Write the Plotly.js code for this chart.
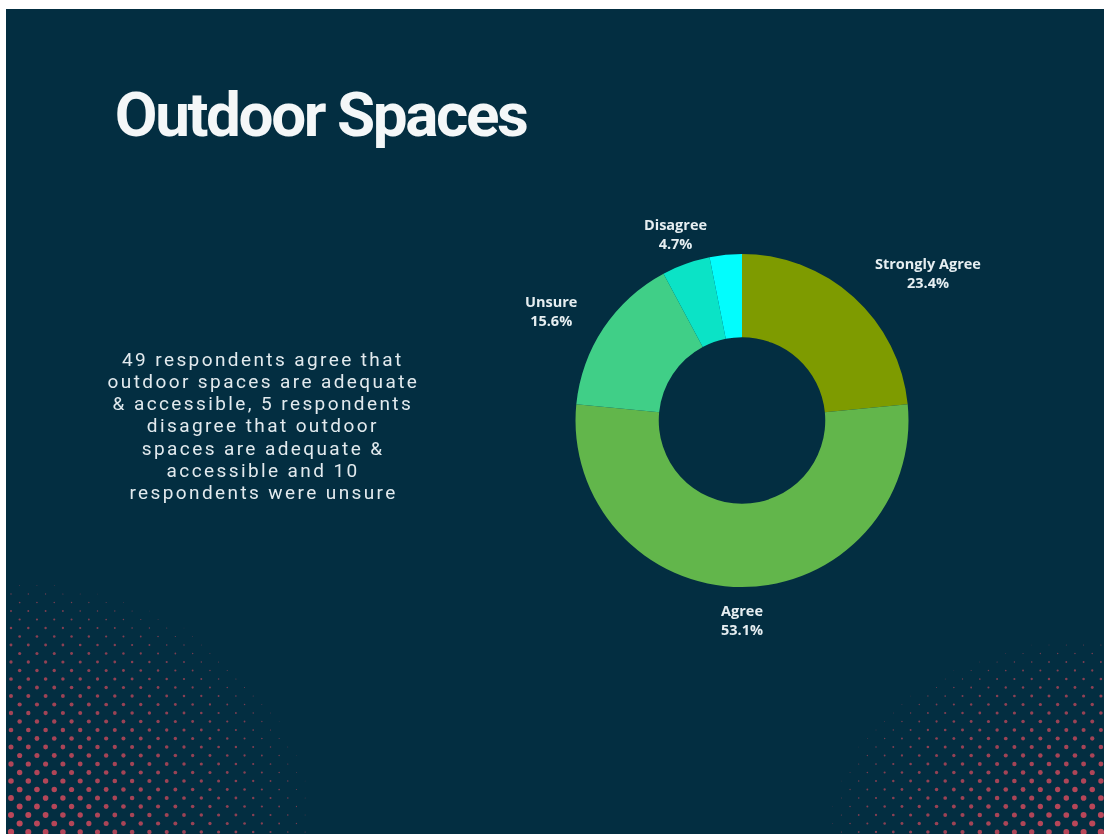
<!DOCTYPE html>
<html>
<head>
<meta charset="utf-8">
<script src="https://cdn.plot.ly/plotly-3.0.1.min.js"></script>
<style>
html,body{margin:0;padding:0;background:#ffffff;width:1104px;height:834px;overflow:hidden;}
#wrap{position:absolute;left:6px;top:9px;width:1098px;height:825px;background:#032e41;overflow:hidden;}
#bg{position:absolute;left:0;top:0;}
#chart{position:absolute;left:0;top:0;width:1098px;height:825px;}
.annotation[data-index="0"] text{letter-spacing:-2.4px;}
.annotation[data-index="1"] text,
.annotation[data-index="2"] text,
.annotation[data-index="3"] text,
.annotation[data-index="4"] text,
.annotation[data-index="5"] text,
.annotation[data-index="6"] text,
.annotation[data-index="7"] text{letter-spacing:2.4px;}
</style>
</head>
<body>
<div id="wrap">
<canvas id="bg" width="1098" height="825"></canvas>
<div id="chart"></div>
</div>
<script>
// ---- data ----
const categories = ['Strongly Agree', 'Agree', 'Unsure', 'Disagree', 'Strongly Disagree'];
const respondents = [15, 34, 10, 3, 2];
const labelled = [true, true, true, true, false];
const titleText = 'Outdoor Spaces';
const summaryLines = [
  '49 respondents agree that',
  'outdoor spaces are adequate',
  '& accessible, 5 respondents',
  'disagree that outdoor',
  'spaces are adequate &',
  'accessible and 10',
  'respondents were unsure'
];

// ---- styles ----
const sliceColors = ['#7e9b00', '#62b64b', '#40cf87', '#0be3c6', '#02fdfd'];
const W = 1098, H = 825;
// label centres in plot pixels (x, y from top)
const labelPos = [[922, 264.5], [736, 610.5], [545, 301.5], [669, 225]];

// ---- decorative halftone background ----
(function () {
  const cv = document.getElementById('bg');
  const ctx = cv.getContext('2d');
  const dx = 17.3, dy = 8.5;
  const ox = -6, oy = -9; // canvas offset relative to page
  for (let row = 0; row * dy < 834 + dy; row++) {
    const py = 832 - row * dy;
    const shift = (row % 2) ? dx / 2 : 0;
    for (let col = -1; col * dx < 1104 + dx; col++) {
      const px = col * dx + shift + 11;
      const dl = Math.sqrt(Math.pow(px / 320, 2) + Math.pow((834 - py) / 260, 2));
      const dr = Math.sqrt(Math.pow((1104 - px) / 280, 2) + Math.pow((834 - py) / 200, 2));
      const t = Math.max(0, 1 - dl, 1 - dr);
      if (t <= 0.02) continue;
      const r = 3.2 * Math.pow(t, 0.6);
      ctx.beginPath();
      ctx.fillStyle = 'rgba(192,72,90,' + (0.45 + 0.55 * Math.pow(t, 0.5)).toFixed(3) + ')';
      ctx.arc(px + ox, py + oy, r, 0, Math.PI * 2);
      ctx.fill();
    }
  }
})();

// ---- chart ----
const total = respondents.reduce((a, b) => a + b, 0);
const pctText = respondents.map(v => (v / total * 100).toFixed(1) + '%');

const cx = 736, cy = 411.5, R = 166.5;
const trace = {
  type: 'pie',
  labels: categories,
  values: respondents,
  sort: false,
  direction: 'clockwise',
  rotation: 0,
  hole: 0.5,
  textinfo: 'none',
  hoverinfo: 'label+percent',
  marker: { colors: sliceColors, line: { width: 0 } },
  showlegend: false,
  domain: { x: [(cx - R) / W, (cx + R) / W], y: [1 - (cy + R) / H, 1 - (cy - R) / H] }
};

const annotations = [];
annotations.push({
  text: titleText, xref: 'paper', yref: 'paper',
  x: 90 / W, y: 1 - 106 / H, xanchor: 'left', yanchor: 'middle', showarrow: false,
  font: { family: 'Roboto', size: 62, weight: 700, color: '#f4f7f8' }
});
summaryLines.forEach((line, i) => {
  annotations.push({
    text: line, xref: 'paper', yref: 'paper',
    x: 257 / W, y: 1 - (350 + i * 22.3) / H, xanchor: 'center', yanchor: 'middle', align: 'center', showarrow: false,
    font: { family: 'Roboto', size: 19, weight: 400, color: '#e2eaee' }
  });
});
let li = 0;
categories.forEach((c, i) => {
  if (!labelled[i]) return;
  const p = labelPos[li++];
  annotations.push({
    text: c + '<br>' + pctText[i], xref: 'paper', yref: 'paper',
    x: p[0] / W, y: 1 - p[1] / H, xanchor: 'center', yanchor: 'middle', align: 'center', showarrow: false,
    font: { family: 'Open Sans', size: 14.5, weight: 700, color: '#e6eef1' }
  });
});

const layout = {
  width: W, height: H,
  margin: { l: 0, r: 0, t: 0, b: 0 },
  paper_bgcolor: 'rgba(0,0,0,0)',
  plot_bgcolor: 'rgba(0,0,0,0)',
  annotations: annotations
};
Plotly.newPlot('chart', [trace], layout, { displayModeBar: false, staticPlot: true });
</script>
</body>
</html>
